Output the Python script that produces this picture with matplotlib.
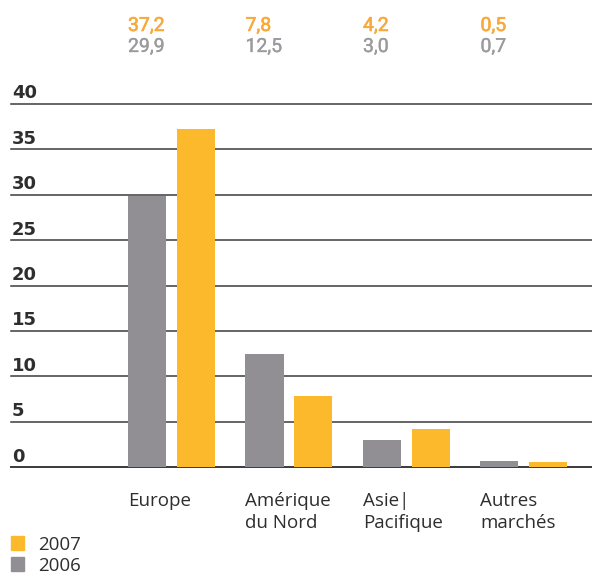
import matplotlib
matplotlib.use("Agg")
import matplotlib.pyplot as plt
import matplotlib.transforms as mtransforms
import matplotlib.patheffects as pe
import numpy as np

categories = ["Europe", "Amérique\ndu Nord", "Asie|\nPacifique", "Autres\nmarchés"]
values_2006 = [29.9, 12.5, 3.0, 0.7]
values_2007 = [37.2, 7.8, 4.2, 0.5]
labels_2006 = ["29,9", "12,5", "3,0", "0,7"]
labels_2007 = ["37,2", "7,8", "4,2", "0,5"]
yticks = [0, 5, 10, 15, 20, 25, 30, 35, 40]
series_names = ["2007", "2006"]

ORANGE = "#FBB92B"
GRAY = "#918F94"
ORANGE_TXT = "#F8A93A"
GRAY_TXT = "#9B9A9E"
LINE = "#3a3a3a"
TXT = "#2e2e2e"
CAT_FONT = ["Open Sans", "DejaVu Sans"]

W, H = 592, 575
fig = plt.figure(figsize=(W / 100, H / 100), dpi=100)

px0, px1 = 11, 592
py0, py40 = 467, 104
ax = fig.add_axes([px0 / W, (H - py0) / H, (px1 - px0) / W, (py0 - py40) / H])
ax.set_axis_off()

spacing = 117.5
center0 = 171.5
xmin = (px0 - center0) / spacing
xmax = (px1 - center0) / spacing
ax.set_xlim(xmin, xmax)
ax.set_ylim(0, 40)

bw = 38 / spacing
off = 24.5 / spacing
x = np.arange(len(categories))

for t in yticks:
    ax.axhline(t, color=LINE, lw=1.1 if t else 1.4, zorder=1, clip_on=False)

ax.bar(x - off, values_2006, width=bw, color=GRAY, zorder=2)
ax.bar(x + off, values_2007, width=bw, color=ORANGE, zorder=2)

ppu = (py0 - py40) / 40.0
for t in yticks:
    ax.text(xmin + 1 / spacing, t + 5.5 / ppu, str(t), fontsize=13, fontweight="bold",
            family=["DejaVu Sans"], color=TXT, ha="left", va="baseline")

trans = mtransforms.blended_transform_factory(ax.transData, fig.transFigure)
for i in range(len(categories)):
    xl = x[i] - off - bw / 2
    ax.text(xl, 1 - 31 / H, labels_2007[i], transform=trans, fontsize=14,
            family=["Roboto", "DejaVu Sans"], color=ORANGE_TXT, ha="left", va="baseline",
            path_effects=[pe.withStroke(linewidth=0.4, foreground=ORANGE_TXT)])
    ax.text(xl, 1 - 52 / H, labels_2006[i], transform=trans, fontsize=14,
            family=["Roboto", "DejaVu Sans"], color=GRAY_TXT, ha="left", va="baseline",
            path_effects=[pe.withStroke(linewidth=0.25, foreground=GRAY_TXT)])
    for j, line in enumerate(categories[i].split("\n")):
        ax.text(xl, 1 - (506 + 22 * j) / H, line, transform=trans, fontsize=13.5,
                family=CAT_FONT, color=TXT, ha="left", va="baseline")

# legend
for k, (name, col) in enumerate(zip(series_names, [ORANGE, GRAY])):
    top = 536 + 21 * k
    fig.patches.append(plt.Rectangle((11 / W, 1 - (top + 14) / H), 13 / W, 14 / H,
                                     transform=fig.transFigure, color=col, figure=fig))
    fig.text(38 / W, 1 - (top + 14) / H, name, fontsize=13.5, family=CAT_FONT,
             color=TXT, ha="left", va="baseline")

fig.savefig("out.png", dpi=100)
